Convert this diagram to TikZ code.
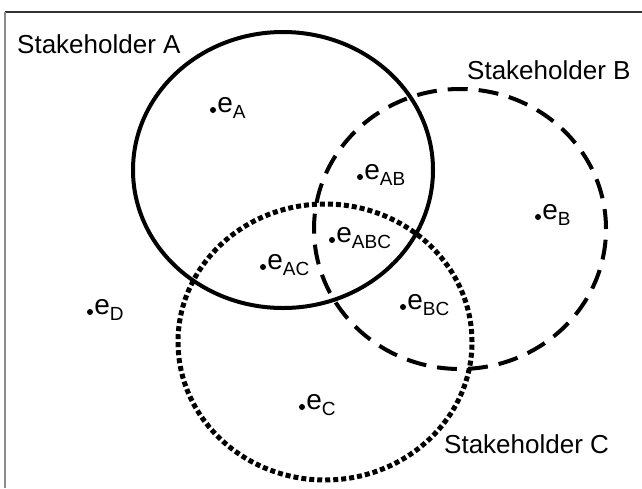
\documentclass[tikz,border=0pt]{standalone}
\usepackage{fontspec}
\setmainfont{Liberation Sans}
\usetikzlibrary{shapes.geometric}

\newcommand{\esub}[1]{e\raisebox{-6pt}{\fontsize{19}{19}\selectfont #1}}

\begin{document}
\begin{tikzpicture}[x=1pt,y=-1pt]
  \tikzset{set/.style = {ellipse,inner sep=0pt,line width=4pt}}
  \tikzset{dot/.style = {circle,fill=black,inner sep=0pt,minimum size=6pt}}
  \tikzset{elab/.style = {inner sep=0pt,anchor=mid west,font=\fontsize{28}{28}\selectfont}}
  \tikzset{title/.style = {inner sep=0pt,anchor=base west,font=\fontsize{26}{26}\selectfont}}

\useasboundingbox (0,0) rectangle (642,488);
\draw[line width=1.5pt,black!80] (5,12) -- (642,12);
\draw[line width=2pt,black!45] (5,12) -- (5,488);

\node[set,draw,minimum width=300,minimum height=276] (A) at (283,170) {};
\node[set,draw,dash pattern=on 20pt off 11pt,minimum width=292,minimum height=280] (B) at (460,229) {};
\node[set,draw,line width=5pt,dash pattern=on 5pt off 3pt,minimum width=294,minimum height=276] (C) at (325,342) {};

\node[title] (tA) at (17,53) {Stakeholder A};
\node[title] (tB) at (467,79) {Stakeholder B};
\node[title] (tC) at (444,453) {Stakeholder C};

\node[dot] (eA)   at (213,110) {};
\node[dot] (eB)   at (538,217) {};
\node[dot] (eC)   at (302,407) {};
\node[dot] (eD)   at (90,312)  {};
\node[dot] (eAB)  at (360,177) {};
\node[dot] (eAC)  at (263,267) {};
\node[dot] (eBC)  at (403,307) {};
\node[dot] (eABC) at (332,240) {};

\node[elab] (eAtxt)   at ([xshift=1pt]eA.east)   {\esub{A}};
\node[elab] (eBtxt)   at ([xshift=1pt]eB.east)   {\esub{B}};
\node[elab] (eCtxt)   at ([xshift=1pt]eC.east)   {\esub{C}};
\node[elab] (eDtxt)   at ([xshift=1pt]eD.east)   {\esub{D}};
\node[elab] (eABtxt)  at ([xshift=1pt]eAB.east)  {\esub{AB}};
\node[elab] (eACtxt)  at ([xshift=1pt]eAC.east)  {\esub{AC}};
\node[elab] (eBCtxt)  at ([xshift=1pt]eBC.east)  {\esub{BC}};
\node[elab] (eABCtxt) at ([xshift=1pt]eABC.east) {\esub{ABC}};

\end{tikzpicture}
\end{document}
